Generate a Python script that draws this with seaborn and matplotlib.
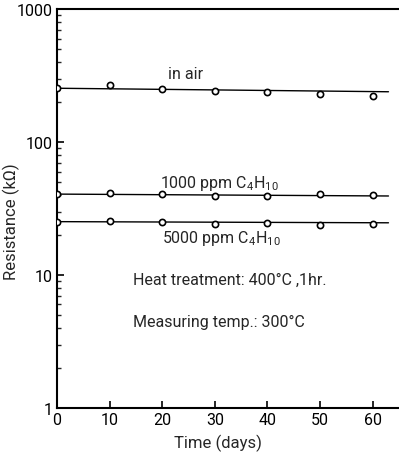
import numpy as np
import pandas as pd
import matplotlib
matplotlib.use("Agg")
import matplotlib.pyplot as plt
import seaborn as sns
from matplotlib.ticker import LogLocator, NullFormatter, FixedLocator

days = [0, 10, 20, 30, 40, 50, 60]
r_air = [254, 270, 250, 243, 237, 231, 223]
r_1000 = [40.6, 41.4, 40.6, 39.3, 39.3, 40.6, 40.0]
r_5000 = [25.2, 25.4, 25.2, 24.1, 24.7, 23.9, 24.4]
series_names = ["in air", "1000 ppm", "5000 ppm"]
# hand-drawn guide lines in the reference (start/end values)
guide_days = [0, 63]
guide_air = [254, 239]
guide_1000 = [40.6, 39.3]
guide_5000 = [25.2, 24.7]
x_ticks = [0, 10, 20, 30, 40, 50, 60]
y_ticks = [1, 10, 100, 1000]
y_tick_labels = ["1", "10", "100", "1000"]

sns.set_style("ticks")
plt.rcParams['font.family'] = ['Roboto', 'DejaVu Sans']
plt.rcParams['mathtext.fontset'] = 'custom'
plt.rcParams['mathtext.rm'] = 'Roboto'
plt.rcParams['mathtext.it'] = 'Roboto'

df = pd.DataFrame({
    "days": days * 3,
    "R": r_air + r_1000 + r_5000,
    "series": sum([[n] * len(days) for n in series_names], []),
})
guides = pd.DataFrame({
    "days": guide_days * 3,
    "R": guide_air + guide_1000 + guide_5000,
    "series": sum([[n] * len(guide_days) for n in series_names], []),
})

fig = plt.figure(figsize=(3.99, 4.60), dpi=100)
ax = fig.add_axes([0.143, 0.111, 0.857, 0.867])

sns.lineplot(data=guides, x="days", y="R", units="series", estimator=None,
             color="black", lw=1.0, ax=ax, zorder=2)
sns.scatterplot(data=df, x="days", y="R", marker="o", s=20, facecolor="white",
                edgecolor="black", linewidth=1.2, ax=ax, zorder=3)

ax.set_yscale("log")
ax.set_ylim(1, 1000)
ax.set_xlim(0, 65)
ax.yaxis.set_major_locator(FixedLocator(y_ticks))
ax.set_yticklabels(y_tick_labels)
ax.yaxis.set_minor_locator(LogLocator(base=10, subs=np.arange(2, 10)))
ax.yaxis.set_minor_formatter(NullFormatter())
ax.set_xticks(x_ticks)
ax.tick_params(axis="both", which="major", direction="in", length=5, width=1.2,
               labelsize=11.5, pad=3, colors="black")
ax.tick_params(axis="y", which="minor", direction="in", length=3, width=1.0)
for s in ["left", "bottom", "top"]:
    ax.spines[s].set_linewidth(1.5)
    ax.spines[s].set_color("black")
ax.spines["right"].set_visible(False)

ax.set_xlabel("Time (days)", fontsize=12)
ax.set_ylabel("Resistance (kΩ)", fontsize=12)
ax.xaxis.set_label_coords(0.47, -0.065)
ax.yaxis.set_label_coords(-0.108, 0.47)

fs = 11.5
ax.text(21, 330, "in air", fontsize=fs, ha="left", va="center")
ax.text(19.5, 50, "1000 ppm C$_4$H$_{10}$", fontsize=fs, ha="left", va="center")
ax.text(20, 19.3, "5000 ppm C$_4$H$_{10}$", fontsize=fs, ha="left", va="center")
ax.text(14.5, 9.2, "Heat treatment: 400°C ,1hr.", fontsize=fs, ha="left", va="center")
ax.text(14.5, 4.5, "Measuring temp.: 300°C", fontsize=fs, ha="left", va="center")

fig.savefig("out.png", dpi=100)
